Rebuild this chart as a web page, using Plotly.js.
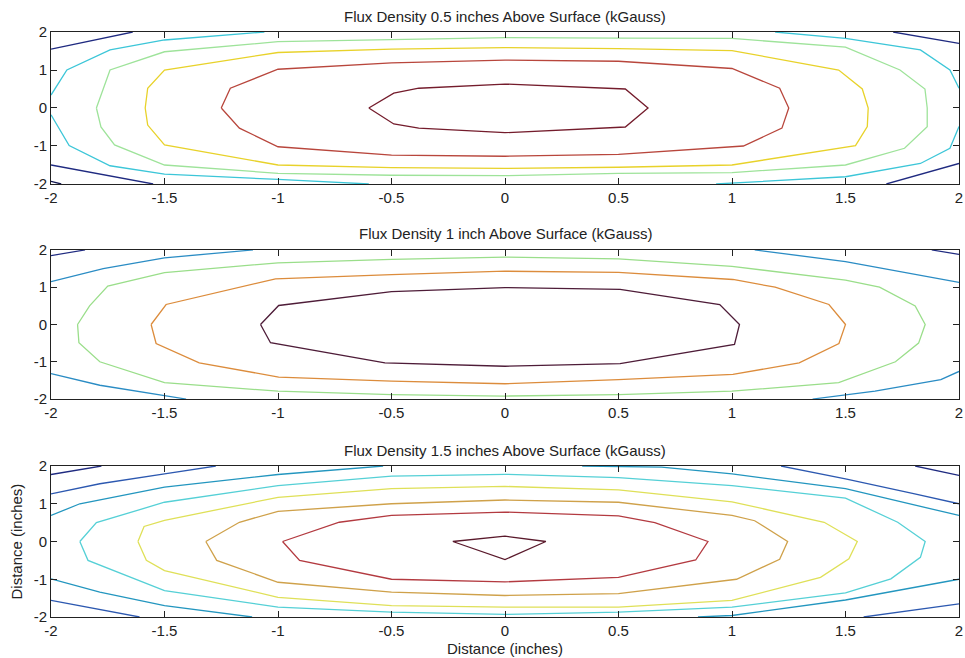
<!DOCTYPE html>
<html>
<head>
<meta charset="utf-8">
<script src="https://cdn.plot.ly/plotly-3.0.1.min.js"></script>
<style>html,body{margin:0;padding:0;background:#fff;}#chart{width:965px;height:658px;}</style>
</head>
<body>
<div id="chart"></div>
<script>
// ---------- tick labels ----------
const xTickVals = [-2, -1.5, -1, -0.5, 0, 0.5, 1, 1.5, 2];
const xTickText = ['-2', '-1.5', '-1', '-0.5', '0', '0.5', '1', '1.5', '2'];
const yTickVals = [-2, -1, 0, 1, 2];
const yTickText = ['-2', '-1', '0', '1', '2'];

const titles = [
  'Flux Density 0.5 inches Above Surface (kGauss)',
  'Flux Density 1 inch Above Surface (kGauss)',
  'Flux Density 1.5 inches Above Surface (kGauss)'
];
const axisLabel = 'Distance (inches)';

// ---------- Plot 1: contour lines (inches) ----------
const p1_l0_x = [-2, -1.955];
const p1_l0_y = [-1.93, -2];
const p1_l1_x = [-2, -1.64, null, -2, -1.55, null, 1.71, 2, null, 1.68, 2];
const p1_l1_y = [1.55, 2, null, -1.5, -2, null, 2, 1.70, null, -2, -1.46];
const p1_l2_x = [-1.06, -1.5, -1.74, -1.93, -2, null, -2, -1.92, -1.74, -1.5, -1.0, -0.6, null, 1.19, 1.5, 1.83, 1.96, 2, null, 2, 1.96, 1.83, 1.5, 0.93];
const p1_l2_y = [2, 1.79, 1.53, 1.0, 0.34, null, -0.18, -0.99, -1.52, -1.74, -1.88, -2, null, 2, 1.83, 1.53, 1.0, 0.52, null, -0.49, -1.06, -1.46, -1.81, -2];
const p1_l3_x = [-1.8, -1.77, -1.74, -1.5, -1.0, -0.5, 0, 0.5, 1.0, 1.5, 1.74, 1.85, 1.86, 1.86, 1.76, 1.5, 1.0, 0.5, 0, -0.5, -1.0, -1.5, -1.72, -1.78, -1.8];
const p1_l3_y = [0, 0.5, 1.0, 1.48, 1.745, 1.8, 1.85, 1.84, 1.83, 1.6, 1.0, 0.5, 0, -0.49, -1.06, -1.5, -1.7, -1.72, -1.78, -1.77, -1.72, -1.5, -0.97, -0.5, 0];
const p1_l4_x = [-1.585, -1.574, -1.5, -1.0, -0.5, 0, 0.5, 1.0, 1.47, 1.574, 1.6, 1.596, 1.544, 1.0, 0.5, 0, -0.5, -1.0, -1.5, -1.574, -1.585];
const p1_l4_y = [0, 0.52, 1.0, 1.46, 1.55, 1.59, 1.56, 1.51, 1.0, 0.5, 0, -0.49, -0.99, -1.5, -1.56, -1.59, -1.57, -1.5, -0.97, -0.45, 0];
const p1_l5_x = [-1.25, -1.21, -1.0, -0.5, 0, 0.5, 1.0, 1.21, 1.25, 1.22, 1.05, 0.5, 0, -0.5, -1.0, -1.17, -1.25];
const p1_l5_y = [0, 0.52, 1.02, 1.19, 1.26, 1.23, 1.04, 0.52, 0, -0.53, -1.0, -1.22, -1.27, -1.24, -1.02, -0.53, 0];
const p1_l6_x = [-0.6, -0.49, -0.38, 0, 0.53, 0.63, 0.53, 0, -0.38, -0.49, -0.6];
const p1_l6_y = [0, 0.39, 0.52, 0.63, 0.5, 0, -0.5, -0.65, -0.53, -0.42, 0];

// ---------- Plot 2 ----------
const p2_l1_x = [-2, -1.85, null, 1.88, 2];
const p2_l1_y = [1.85, 2, null, 2, 1.88];
const p2_l2_x = [-1.11, -1.5, -1.77, -2, null, -2, -1.785, -1.405, null, 1.1, 1.5, 2, null, 2, 1.92, 1.63, 1.355];
const p2_l2_y = [2, 1.79, 1.5, 1.15, null, -1.32, -1.63, -2, null, 2, 1.69, 1.13, null, -1.26, -1.48, -1.79, -2];
const p2_l3_x = [-1.883, -1.83, -1.75, -1.5, -1.0, -0.5, 0, 0.5, 1.0, 1.5, 1.65, 1.807, 1.851, 1.822, 1.72, 1.47, 1.0, 0.5, 0, -0.5, -1.0, -1.5, -1.785, -1.877, -1.883];
const p2_l3_y = [0, 0.5, 1.03, 1.39, 1.656, 1.75, 1.81, 1.76, 1.56, 1.19, 1.0, 0.5, 0, -0.5, -1.0, -1.56, -1.79, -1.88, -1.92, -1.88, -1.79, -1.56, -1.0, -0.49, 0];
const p2_l4_x = [-1.559, -1.493, -1.011, -0.5, 0, 0.5, 1.004, 1.19, 1.427, 1.5, 1.471, 1.296, 1.004, 0.5, 0, -0.5, -0.997, -1.347, -1.537, -1.559];
const p2_l4_y = [0, 0.537, 1.227, 1.34, 1.43, 1.40, 1.208, 1.0, 0.537, 0, -0.51, -1.03, -1.34, -1.48, -1.59, -1.52, -1.41, -1.03, -0.51, 0];
const p2_l5_x = [-1.077, -0.997, -0.5, 0, 0.507, 0.946, 1.033, 1.011, 0.507, 0, -0.529, -1.033, -1.077];
const p2_l5_y = [0, 0.51, 0.88, 0.99, 0.94, 0.537, 0, -0.537, -1.05, -1.12, -1.03, -0.49, 0];

// ---------- Plot 3 ----------
const p3_l1_x = [-2, -1.778, null, 1.807, 2];
const p3_l1_y = [1.775, 2, null, 2, 1.75];
const p3_l2_x = [-2, -1.785, -1.5, -1.274, null, -2, -1.61, null, 1.216, 1.5, 1.8, 2, null, 2, 1.58];
const p3_l2_y = [1.264, 1.53, 1.79, 2, null, -1.56, -2, null, 2, 1.66, 1.27, 1.0, null, -1.65, -2];
const p3_l3_x = [-2, -1.873, -1.5, -1.0, -0.537, null, 0.34, 0.69, 1.0, 1.5, 2, null, -2, -1.785, -1.5, -1.114, null, 0.85, 1.0, 1.5, 2];
const p3_l3_y = [0.689, 1.0, 1.44, 1.775, 2, null, 2, 1.97, 1.79, 1.4, 0.69, null, -0.99, -1.34, -1.70, -2, null, -2, -1.96, -1.55, -1.0];
const p3_l4_x = [-1.873, -1.8, -1.5, -1.0, -0.5, 0, 0.5, 1.0, 1.5, 1.73, 1.851, 1.83, 1.7, 1.5, 1.0, 0.5, 0, -0.5, -1.0, -1.5, -1.837, -1.873];
const p3_l4_y = [0, 0.5, 1.04, 1.48, 1.73, 1.78, 1.69, 1.48, 1.15, 0.51, 0, -0.42, -0.99, -1.36, -1.74, -1.87, -1.93, -1.87, -1.74, -1.30, -0.5, 0];
const p3_l5_x = [-1.617, -1.59, -1.5, -1.0, -0.5, 0, 0.5, 1.0, 1.406, 1.552, 1.515, 1.39, 1.0, 0.5, 0, -0.5, -1.0, -1.5, -1.58, -1.617];
const p3_l5_y = [0, 0.4, 0.56, 1.17, 1.4, 1.46, 1.37, 1.05, 0.51, 0, -0.46, -0.95, -1.56, -1.74, -1.74, -1.7, -1.48, -0.77, -0.5, 0];
const p3_l6_x = [-1.318, -1.17, -1.0, -0.5, 0, 0.5, 1.0, 1.1, 1.245, 1.21, 1.02, 0.5, 0, -0.5, -1.0, -1.27, -1.318];
const p3_l6_y = [0, 0.51, 0.8, 1.0, 1.1, 1.04, 0.69, 0.55, 0, -0.47, -1.0, -1.38, -1.43, -1.34, -1.08, -0.5, 0];
const p3_l7_x = [-0.98, -0.73, -0.5, 0, 0.5, 0.66, 0.894, 0.84, 0.5, 0, -0.5, -0.905, -0.98];
const p3_l7_y = [0, 0.51, 0.69, 0.78, 0.68, 0.5, 0, -0.49, -0.95, -1.07, -1.0, -0.5, 0];
const p3_l8_x = [-0.23, 0, 0.18, 0, -0.23];
const p3_l8_y = [0, 0.14, 0, -0.48, 0];

// ---------- styles ----------
const C = {
  navy0: '#101650', navy: '#1f2a80', blue: '#2c58b0', steel: '#2a8cc4', teal: '#2396bf',
  cyan: '#3cc6d8', lcyan: '#55d0d6', green: '#9ee39a', lgreen: '#9ade8a',
  yellow: '#e8d22a', lyellow: '#dfe058', orange: '#dc8c3c', ochre: '#cfa14a',
  red: '#b8463c', red3: '#b33a40', maroon: '#741c2c', maroon2: '#4e1c38', maroon3: '#5a1a2c'
};

const traces = [];
function addLine(x, y, color, n) {
  traces.push({
    type: 'scatter', mode: 'lines', x: x, y: y,
    xaxis: n === 1 ? 'x' : 'x' + n, yaxis: n === 1 ? 'y' : 'y' + n,
    line: { color: color, width: 1.3 }, connectgaps: false,
    hoverinfo: 'skip', showlegend: false
  });
}
addLine(p1_l0_x, p1_l0_y, C.navy0, 1);
addLine(p1_l1_x, p1_l1_y, C.navy, 1);
addLine(p1_l2_x, p1_l2_y, C.cyan, 1);
addLine(p1_l3_x, p1_l3_y, C.green, 1);
addLine(p1_l4_x, p1_l4_y, C.yellow, 1);
addLine(p1_l5_x, p1_l5_y, C.red, 1);
addLine(p1_l6_x, p1_l6_y, C.maroon, 1);

addLine(p2_l1_x, p2_l1_y, C.navy, 2);
addLine(p2_l2_x, p2_l2_y, C.steel, 2);
addLine(p2_l3_x, p2_l3_y, C.lgreen, 2);
addLine(p2_l4_x, p2_l4_y, C.orange, 2);
addLine(p2_l5_x, p2_l5_y, C.maroon2, 2);

addLine(p3_l1_x, p3_l1_y, C.navy, 3);
addLine(p3_l2_x, p3_l2_y, C.blue, 3);
addLine(p3_l3_x, p3_l3_y, C.teal, 3);
addLine(p3_l4_x, p3_l4_y, C.lcyan, 3);
addLine(p3_l5_x, p3_l5_y, C.lyellow, 3);
addLine(p3_l6_x, p3_l6_y, C.ochre, 3);
addLine(p3_l7_x, p3_l7_y, C.red3, 3);
addLine(p3_l8_x, p3_l8_y, C.maroon3, 3);

const FONT = { family: '"Liberation Sans", Arial, sans-serif', size: 15, color: '#222' };
function xAx(anchor) {
  return {
    anchor: anchor, domain: [0, 1], range: [-2, 2], tickmode: 'array',
    tickvals: xTickVals, ticktext: xTickText, ticks: 'inside', ticklen: 6,
    tickcolor: '#222', showline: true, linecolor: '#222', linewidth: 1,
    mirror: 'ticks', showgrid: false, zeroline: false, tickfont: FONT
  };
}
function yAx(anchor, domain) {
  return {
    anchor: anchor, domain: domain, range: [-2, 2], tickmode: 'array',
    tickvals: yTickVals, ticktext: yTickText, ticks: 'inside', ticklen: 6,
    tickcolor: '#222', showline: true, linecolor: '#222', linewidth: 1,
    mirror: 'ticks', showgrid: false, zeroline: false, tickfont: FONT
  };
}
const d1 = [0.7402, 1], d2 = [0.3726, 0.6274], d3 = [0, 0.2581];

const annotations = [
  { text: titles[0], y: d1[1] },
  { text: titles[1], y: d2[1] },
  { text: titles[2], y: d3[1] }
].map(a => ({
  text: a.text, xref: 'paper', yref: 'paper', x: 0.5, y: a.y,
  xanchor: 'center', yanchor: 'middle', yshift: 16, showarrow: false, font: FONT
}));
annotations.push({
  text: axisLabel, xref: 'paper', yref: 'paper', x: 0.5, y: 0,
  xanchor: 'center', yanchor: 'middle', yshift: -31, showarrow: false, font: FONT
});
annotations.push({
  text: axisLabel, xref: 'paper', yref: 'paper', x: 0, y: 0.129,
  xanchor: 'center', yanchor: 'middle', xshift: -34, textangle: -90, showarrow: false, font: FONT
});

const layout = {
  width: 965, height: 658,
  margin: { l: 51, r: 6, t: 32, b: 41 },
  paper_bgcolor: '#fff', plot_bgcolor: '#fff',
  font: FONT, showlegend: false,
  xaxis: xAx('y'), yaxis: yAx('x', d1),
  xaxis2: xAx('y2'), yaxis2: yAx('x2', d2),
  xaxis3: xAx('y3'), yaxis3: yAx('x3', d3),
  annotations: annotations
};

Plotly.newPlot('chart', traces, layout, { staticPlot: true, displayModeBar: false });
</script>
</body>
</html>
